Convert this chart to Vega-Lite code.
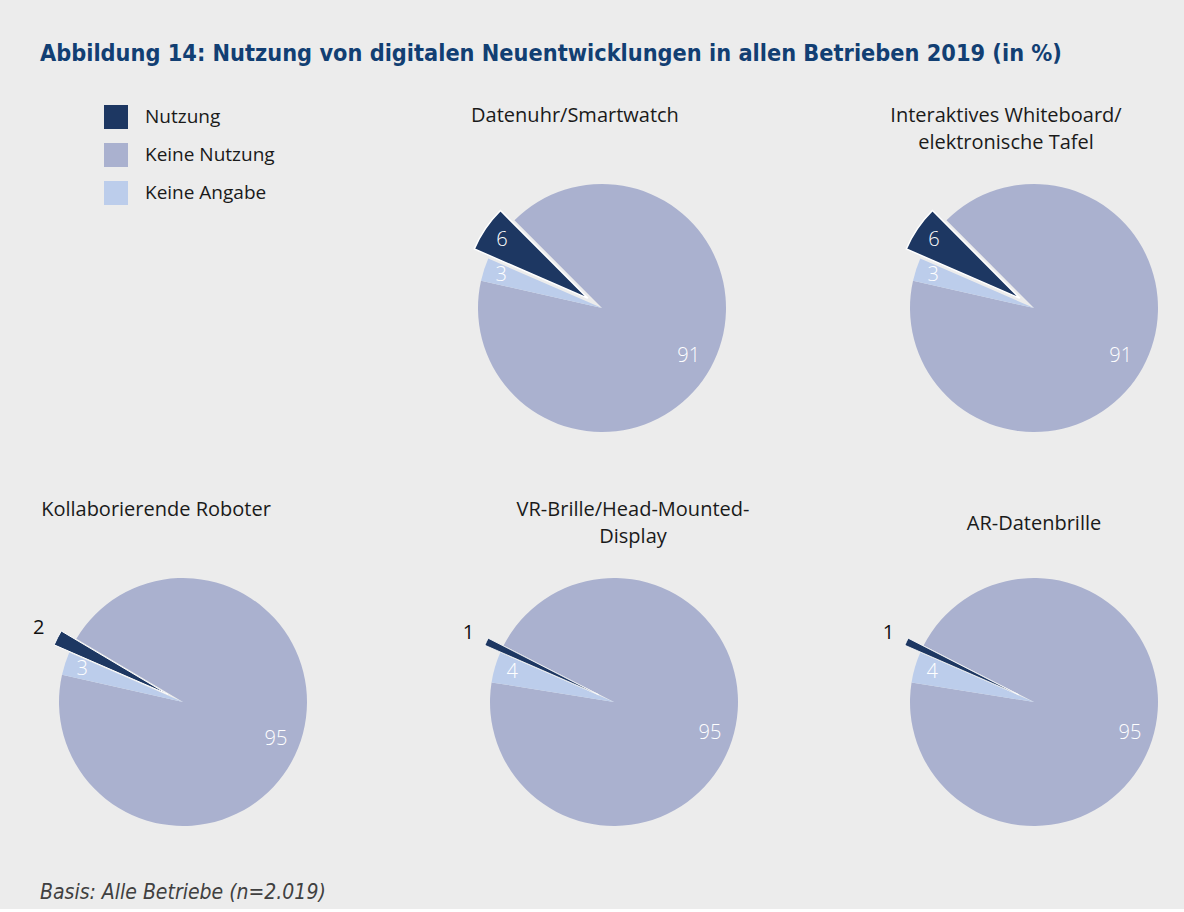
{
  "$schema": "https://vega.github.io/schema/vega-lite/v6.json",
  "background": "#ececec",
  "padding": {"left": 22, "top": 41, "right": 0, "bottom": 6},
  "title": {"text": "Abbildung 14: Nutzung von digitalen Neuentwicklungen in allen Betrieben 2019 (in %)", "anchor": "start", "frame": "group", "dx": 18, "font": "DejaVu Sans Condensed, Lato", "fontSize": 23.3, "fontWeight": "bold", "color": "#123f73", "baseline": "top", "offset": 39},
  "data": {"values": [
    {"Geraet": "Datenuhr/Smartwatch", "Kategorie": "Nutzung", "Wert": 6},
    {"Geraet": "Datenuhr/Smartwatch", "Kategorie": "Keine Nutzung", "Wert": 91},
    {"Geraet": "Datenuhr/Smartwatch", "Kategorie": "Keine Angabe", "Wert": 3},
    {"Geraet": "Interaktives Whiteboard/elektronische Tafel", "Kategorie": "Nutzung", "Wert": 6},
    {"Geraet": "Interaktives Whiteboard/elektronische Tafel", "Kategorie": "Keine Nutzung", "Wert": 91},
    {"Geraet": "Interaktives Whiteboard/elektronische Tafel", "Kategorie": "Keine Angabe", "Wert": 3},
    {"Geraet": "Kollaborierende Roboter", "Kategorie": "Nutzung", "Wert": 2},
    {"Geraet": "Kollaborierende Roboter", "Kategorie": "Keine Nutzung", "Wert": 95},
    {"Geraet": "Kollaborierende Roboter", "Kategorie": "Keine Angabe", "Wert": 3},
    {"Geraet": "VR-Brille/Head-Mounted-Display", "Kategorie": "Nutzung", "Wert": 1},
    {"Geraet": "VR-Brille/Head-Mounted-Display", "Kategorie": "Keine Nutzung", "Wert": 95},
    {"Geraet": "VR-Brille/Head-Mounted-Display", "Kategorie": "Keine Angabe", "Wert": 4},
    {"Geraet": "AR-Datenbrille", "Kategorie": "Nutzung", "Wert": 1},
    {"Geraet": "AR-Datenbrille", "Kategorie": "Keine Nutzung", "Wert": 95},
    {"Geraet": "AR-Datenbrille", "Kategorie": "Keine Angabe", "Wert": 4}
  ]},
  "spacing": 42,
  "vconcat": [
    {
      "bounds": "flush",
      "spacing": 0,
      "hconcat": [
        {"width": 298, "height": 300, "mark": {"type": "point", "opacity": 0}},
        {
          "width": 564, "height": 300,
          "title": {"text": "Datenuhr/Smartwatch", "dx": -27, "offset": 32},
          "transform": [
            {"filter": "datum.Geraet == 'Datenuhr/Smartwatch'"},
            {"stack": "Wert", "groupby": ["Geraet"], "sort": [{"field": "Kategorie", "order": "descending"}], "as": ["t0", "t1"]},
            {"calculate": "(datum.t0 + datum.t1) / 2", "as": "tm"}
          ],
          "layer": [
            {"transform": [{"filter": "datum.Kategorie != 'Nutzung'"}],
             "mark": {"type": "arc", "radius": 124},
             "encoding": {
               "theta": {"field": "t0", "type": "quantitative", "stack": null, "scale": {"domain": [0, 100], "range": [5.1225, 11.4057]}},
               "theta2": {"field": "t1"},
               "color": {"field": "Kategorie", "type": "nominal", "scale": {"domain": ["Nutzung", "Keine Nutzung", "Keine Angabe"], "range": ["#1d3762", "#aab1cf", "#bccdeb"]}, "legend": {"title": null, "orient": "none", "legendX": 82, "legendY": -53}}}},
            {"transform": [{"filter": "datum.Kategorie == 'Nutzung'"}],
             "mark": {"type": "arc", "radius": 124, "stroke": "#ffffff", "strokeWidth": 1.5, "xOffset": -14, "yOffset": -9.6},
             "encoding": {
               "theta": {"field": "t0", "type": "quantitative", "stack": null, "scale": {"domain": [0, 100], "range": [5.1225, 11.4057]}},
               "theta2": {"field": "t1"},
               "color": {"field": "Kategorie", "type": "nominal"}}},
            {"transform": [{"filter": "datum.Kategorie == 'Keine Nutzung'"}],
             "mark": {"type": "text", "radius": 99, "color": "#ffffff"},
             "encoding": {"theta": {"field": "tm", "type": "quantitative", "stack": null}, "text": {"field": "Wert", "type": "quantitative"}}},
            {"transform": [{"filter": "datum.Kategorie == 'Keine Angabe'"}],
             "mark": {"type": "text", "radius": 106, "color": "#ffffff"},
             "encoding": {"theta": {"field": "tm", "type": "quantitative", "stack": null}, "text": {"field": "Wert", "type": "quantitative"}}},
            {"transform": [{"filter": "datum.Kategorie == 'Nutzung'"}],
             "mark": {"type": "text", "radius": 121, "color": "#ffffff"},
             "encoding": {"theta": {"field": "tm", "type": "quantitative", "stack": null}, "text": {"field": "Wert", "type": "quantitative"}}}
          ]
        },
        {
          "width": 300, "height": 300,
          "title": {"text": ["Interaktives Whiteboard/", "elektronische Tafel"], "dx": -28, "offset": 5},
          "transform": [
            {"filter": "datum.Geraet == 'Interaktives Whiteboard/elektronische Tafel'"},
            {"stack": "Wert", "groupby": ["Geraet"], "sort": [{"field": "Kategorie", "order": "descending"}], "as": ["t0", "t1"]},
            {"calculate": "(datum.t0 + datum.t1) / 2", "as": "tm"}
          ],
          "layer": [
            {"transform": [{"filter": "datum.Kategorie != 'Nutzung'"}],
             "mark": {"type": "arc", "radius": 124},
             "encoding": {
               "theta": {"field": "t0", "type": "quantitative", "stack": null, "scale": {"domain": [0, 100], "range": [5.1225, 11.4057]}},
               "theta2": {"field": "t1"},
               "color": {"field": "Kategorie", "type": "nominal"}}},
            {"transform": [{"filter": "datum.Kategorie == 'Nutzung'"}],
             "mark": {"type": "arc", "radius": 124, "stroke": "#ffffff", "strokeWidth": 1.5, "xOffset": -14, "yOffset": -9.6},
             "encoding": {
               "theta": {"field": "t0", "type": "quantitative", "stack": null, "scale": {"domain": [0, 100], "range": [5.1225, 11.4057]}},
               "theta2": {"field": "t1"},
               "color": {"field": "Kategorie", "type": "nominal"}}},
            {"transform": [{"filter": "datum.Kategorie == 'Keine Nutzung'"}],
             "mark": {"type": "text", "radius": 99, "color": "#ffffff"},
             "encoding": {"theta": {"field": "tm", "type": "quantitative", "stack": null}, "text": {"field": "Wert", "type": "quantitative"}}},
            {"transform": [{"filter": "datum.Kategorie == 'Keine Angabe'"}],
             "mark": {"type": "text", "radius": 106, "color": "#ffffff"},
             "encoding": {"theta": {"field": "tm", "type": "quantitative", "stack": null}, "text": {"field": "Wert", "type": "quantitative"}}},
            {"transform": [{"filter": "datum.Kategorie == 'Nutzung'"}],
             "mark": {"type": "text", "radius": 121, "color": "#ffffff"},
             "encoding": {"theta": {"field": "tm", "type": "quantitative", "stack": null}, "text": {"field": "Wert", "type": "quantitative"}}}
          ]
        }
      ]
    },
    {
      "bounds": "flush",
      "spacing": 0,
      "title": {"text": "Basis: Alle Betriebe (n=2.019)", "orient": "bottom", "anchor": "start", "frame": "group", "dx": 18, "font": "DejaVu Sans Condensed, Lato", "fontStyle": "italic", "fontSize": 21, "fontWeight": "normal", "color": "#404040", "baseline": "top", "offset": 30},
      "hconcat": [
        {
          "width": 322, "height": 300,
          "title": {"text": "Kollaborierende Roboter", "dx": -27, "offset": 32},
          "transform": [
            {"filter": "datum.Geraet == 'Kollaborierende Roboter'"},
            {"stack": "Wert", "groupby": ["Geraet"], "sort": [{"field": "Kategorie", "order": "descending"}], "as": ["t0", "t1"]},
            {"calculate": "(datum.t0 + datum.t1) / 2", "as": "tm"}
          ],
          "layer": [
            {"transform": [{"filter": "datum.Kategorie != 'Nutzung'"}],
             "mark": {"type": "arc", "radius": 124},
             "encoding": {
               "theta": {"field": "t0", "type": "quantitative", "stack": null, "scale": {"domain": [0, 100], "range": [5.1225, 11.4057]}},
               "theta2": {"field": "t1"},
               "color": {"field": "Kategorie", "type": "nominal"}}},
            {"transform": [{"filter": "datum.Kategorie == 'Nutzung'"}],
             "mark": {"type": "arc", "radius": 124, "stroke": "#ffffff", "strokeWidth": 1, "xOffset": -15.1, "yOffset": -7.7},
             "encoding": {
               "theta": {"field": "t0", "type": "quantitative", "stack": null, "scale": {"domain": [0, 100], "range": [5.1225, 11.4057]}},
               "theta2": {"field": "t1"},
               "color": {"field": "Kategorie", "type": "nominal"}}},
            {"transform": [{"filter": "datum.Kategorie == 'Keine Nutzung'"}],
             "mark": {"type": "text", "radius": 100, "color": "#ffffff"},
             "encoding": {"theta": {"field": "tm", "type": "quantitative", "stack": null}, "text": {"field": "Wert", "type": "quantitative"}}},
            {"transform": [{"filter": "datum.Kategorie == 'Keine Angabe'"}],
             "mark": {"type": "text", "radius": 106, "color": "#ffffff"},
             "encoding": {"theta": {"field": "tm", "type": "quantitative", "stack": null}, "text": {"field": "Wert", "type": "quantitative"}}},
            {"transform": [{"filter": "datum.Kategorie == 'Nutzung'"}],
             "mark": {"type": "text", "radius": 162, "color": "#111111", "fontWeight": "normal"},
             "encoding": {"theta": {"field": "tm", "type": "quantitative", "stack": null}, "text": {"field": "Wert", "type": "quantitative"}}}
          ]
        },
        {
          "width": 540, "height": 300,
          "title": {"text": ["VR-Brille/Head-Mounted-", "Display"], "dx": 19, "offset": 5},
          "transform": [
            {"filter": "datum.Geraet == 'VR-Brille/Head-Mounted-Display'"},
            {"stack": "Wert", "groupby": ["Geraet"], "sort": [{"field": "Kategorie", "order": "descending"}], "as": ["t0", "t1"]},
            {"calculate": "(datum.t0 + datum.t1) / 2", "as": "tm"}
          ],
          "layer": [
            {"transform": [{"filter": "datum.Kategorie != 'Nutzung'"}],
             "mark": {"type": "arc", "radius": 124},
             "encoding": {
               "theta": {"field": "t0", "type": "quantitative", "stack": null, "scale": {"domain": [0, 100], "range": [5.1225, 11.4057]}},
               "theta2": {"field": "t1"},
               "color": {"field": "Kategorie", "type": "nominal"}}},
            {"transform": [{"filter": "datum.Kategorie == 'Nutzung'"}],
             "mark": {"type": "arc", "radius": 124, "stroke": "#ffffff", "strokeWidth": 0.8, "xOffset": -15.4, "yOffset": -7.3},
             "encoding": {
               "theta": {"field": "t0", "type": "quantitative", "stack": null, "scale": {"domain": [0, 100], "range": [5.1225, 11.4057]}},
               "theta2": {"field": "t1"},
               "color": {"field": "Kategorie", "type": "nominal"}}},
            {"transform": [{"filter": "datum.Kategorie == 'Keine Nutzung'"}],
             "mark": {"type": "text", "radius": 101, "color": "#ffffff"},
             "encoding": {"theta": {"field": "tm", "type": "quantitative", "stack": null}, "text": {"field": "Wert", "type": "quantitative"}}},
            {"transform": [{"filter": "datum.Kategorie == 'Keine Angabe'"}],
             "mark": {"type": "text", "radius": 106, "color": "#ffffff"},
             "encoding": {"theta": {"field": "tm", "type": "quantitative", "stack": null}, "text": {"field": "Wert", "type": "quantitative"}}},
            {"transform": [{"filter": "datum.Kategorie == 'Nutzung'"}],
             "mark": {"type": "text", "radius": 161, "color": "#111111", "fontWeight": "normal"},
             "encoding": {"theta": {"field": "tm", "type": "quantitative", "stack": null}, "text": {"field": "Wert", "type": "quantitative"}}}
          ]
        },
        {
          "width": 300, "height": 300,
          "title": {"text": "AR-Datenbrille", "dx": 0, "offset": 18},
          "transform": [
            {"filter": "datum.Geraet == 'AR-Datenbrille'"},
            {"stack": "Wert", "groupby": ["Geraet"], "sort": [{"field": "Kategorie", "order": "descending"}], "as": ["t0", "t1"]},
            {"calculate": "(datum.t0 + datum.t1) / 2", "as": "tm"}
          ],
          "layer": [
            {"transform": [{"filter": "datum.Kategorie != 'Nutzung'"}],
             "mark": {"type": "arc", "radius": 124},
             "encoding": {
               "theta": {"field": "t0", "type": "quantitative", "stack": null, "scale": {"domain": [0, 100], "range": [5.1225, 11.4057]}},
               "theta2": {"field": "t1"},
               "color": {"field": "Kategorie", "type": "nominal"}}},
            {"transform": [{"filter": "datum.Kategorie == 'Nutzung'"}],
             "mark": {"type": "arc", "radius": 124, "stroke": "#ffffff", "strokeWidth": 0.8, "xOffset": -15.4, "yOffset": -7.3},
             "encoding": {
               "theta": {"field": "t0", "type": "quantitative", "stack": null, "scale": {"domain": [0, 100], "range": [5.1225, 11.4057]}},
               "theta2": {"field": "t1"},
               "color": {"field": "Kategorie", "type": "nominal"}}},
            {"transform": [{"filter": "datum.Kategorie == 'Keine Nutzung'"}],
             "mark": {"type": "text", "radius": 101, "color": "#ffffff"},
             "encoding": {"theta": {"field": "tm", "type": "quantitative", "stack": null}, "text": {"field": "Wert", "type": "quantitative"}}},
            {"transform": [{"filter": "datum.Kategorie == 'Keine Angabe'"}],
             "mark": {"type": "text", "radius": 106, "color": "#ffffff"},
             "encoding": {"theta": {"field": "tm", "type": "quantitative", "stack": null}, "text": {"field": "Wert", "type": "quantitative"}}},
            {"transform": [{"filter": "datum.Kategorie == 'Nutzung'"}],
             "mark": {"type": "text", "radius": 161, "color": "#111111", "fontWeight": "normal"},
             "encoding": {"theta": {"field": "tm", "type": "quantitative", "stack": null}, "text": {"field": "Wert", "type": "quantitative"}}}
          ]
        }
      ]
    }
  ],
  "config": {
    "view": {"stroke": null},
    "font": "Open Sans",
    "text": {"font": "Open Sans", "fontSize": 20, "fontWeight": 300, "align": "center", "baseline": "middle"},
    "title": {"font": "Open Sans", "fontSize": 20, "fontWeight": "normal", "color": "#1a1a1a", "lineHeight": 27, "baseline": "top", "anchor": "middle"},
    "legend": {"symbolType": "square", "symbolSize": 576, "symbolStrokeWidth": 0, "symbolOpacity": 1, "labelFont": "Open Sans", "labelFontSize": 19, "labelColor": "#1a1a1a", "labelOffset": 17, "rowPadding": 14, "padding": 0, "labelLimit": 300}
  }
}
